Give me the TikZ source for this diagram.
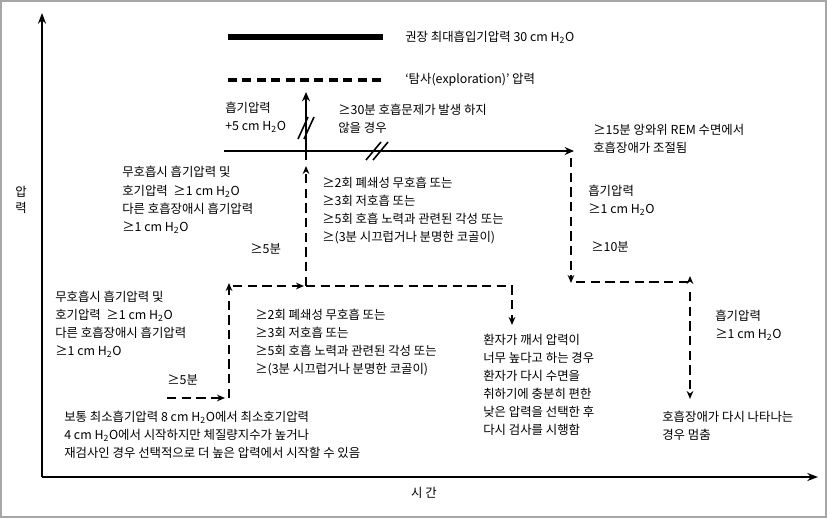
\documentclass[tikz,border=0pt]{standalone}
\usepackage{fontspec}
\setmainfont{Noto Sans CJK KR}
\usetikzlibrary{arrows.meta}

\begin{document}
\begin{tikzpicture}[
  x=0.75pt,y=-0.75pt,
  axis/.style={line width=2pt,-{Stealth[length=8pt,width=6pt]}},
  flow/.style={line width=2pt,dash pattern=on 7pt off 4pt,-{Stealth[length=6pt,width=5pt]}},
  plain/.style={line width=1.5pt},
  txt/.style={anchor=west,align=left,inner sep=0pt,font=\fontsize{9.3}{13.6}\selectfont},
]
  \useasboundingbox (0,0) rectangle (827,518);
  \draw[gray!70,line width=1.2pt] (1,1) rectangle (826,517);

  % axes
  \coordinate (o) at (42,477);
  \coordinate (ytop) at (42,13);
  \coordinate (xend) at (818,477);
  \draw[axis] (o) -- (ytop);
  \draw[axis] (o) -- (xend);
  \node[txt,anchor=center,align=center,font=\fontsize{9.3}{11.5}\selectfont] (pres) at (21,200) {압\\력};
  \node[txt,anchor=center] (time) at (424,493) {시 간};

  % legend lines
  \coordinate (m1) at (228,37);  \coordinate (m2) at (383,37);
  \coordinate (e1) at (228,80);  \coordinate (e2) at (383,80);
  \draw[line width=5pt] (m1) -- (m2);
  \draw[line width=2.5pt,dash pattern=on 6.8pt off 4pt] (e1) -- (e2);
  \node[txt] (maxp) at (405,37) {권장 최대흡입기압력 30 cm H\textsubscript{2}O};
  \node[txt] (expl) at (405,80) {‘탐사(exploration)’ 압력};

  % main solid line and the step up
  \coordinate (b0) at (224,151);  \coordinate (b1) at (574,151);
  \coordinate (v0) at (306,160);  \coordinate (v1) at (306,92);
  \draw[plain,-{Stealth[length=7pt,width=6pt]}] (b0) -- (b1);
  \draw[plain,-{Stealth[length=7pt,width=6pt]}] (v0) -- (v1);
  \foreach \d in {0,6}
    \draw[line width=1.2pt] ({298+\d},139) -- ({308+\d},117);
  \foreach \d in {0,7}
    \draw[line width=1.2pt] ({366+\d},160) -- ({381+\d},142);

  % left staircase
  \coordinate (s0) at (167,398);  \coordinate (s1) at (225,398);
  \coordinate (s2) at (229,398);  \coordinate (s3) at (229,283);
  \coordinate (s4) at (233,286);  \coordinate (s5) at (304,286);
  \coordinate (s6) at (306,286);  \coordinate (s7) at (512,325);
  \coordinate (s8) at (306,166);
  \draw[flow] (s0) -- (s1);
  \draw[flow] (s2) -- (s3);
  \draw[flow] (s4) -- (s5);
  \draw[flow] (s6) -| (s7);
  \draw[flow] (s6) -- (s8);

  % right staircase
  \coordinate (r0) at (571,158);  \coordinate (r1) at (571,283);
  \coordinate (r2) at (576,282);  \coordinate (r3) at (690,276);
  \coordinate (r4) at (690,292);  \coordinate (r5) at (690,399);
  \draw[flow] (r0) -- (r1);
  \draw[flow] (r2) -| (r3);
  \draw[flow] (r4) -- (r5);

  % notes
  \node[txt] (upin) at (225,117.5) {흡기압력\\+5 cm H\textsubscript{2}O};
  \node[txt] (noprob) at (338,119) {≥30분 호흡문제가 발생 하지\\않을 경우};
  \node[txt] (rem) at (593,138.5) {≥15분 앙와위 REM 수면에서\\호흡장애가 조절됨};
  \node[txt] (apnea2) at (122,200) {무호흡시 흡기압력 및\\호기압력 \ ≥1 cm H\textsubscript{2}O\\다른 호흡장애시 흡기압력\\≥1 cm H\textsubscript{2}O};
  \node[txt] (crit2) at (322,210.5) {≥2회 폐쇄성 무호흡 또는\\≥3회 저호흡 또는\\≥5회 호흡 노력과 관련된 각성 또는\\≥(3분 시끄럽거나 분명한 코골이)};
  \node[txt] (min5b) at (250,248.5) {≥5분};
  \node[txt] (down1) at (588,200) {흡기압력\\≥1 cm H\textsubscript{2}O};
  \node[txt] (min10) at (591,246.5) {≥10분};
  \node[txt] (apnea1) at (55,324.5) {무호흡시 흡기압력 및\\호기압력 \ ≥1 cm H\textsubscript{2}O\\다른 호흡장애시 흡기압력\\≥1 cm H\textsubscript{2}O};
  \node[txt] (crit1) at (255,342.5) {≥2회 폐쇄성 무호흡 또는\\≥3회 저호흡 또는\\≥5회 호흡 노력과 관련된 각성 또는\\≥(3분 시끄럽거나 분명한 코골이)};
  \node[txt] (min5a) at (167,380) {≥5분};
  \node[txt] (start) at (64,435) {보통 최소흡기압력 8 cm H\textsubscript{2}O에서 최소호기압력\\4 cm H\textsubscript{2}O에서 시작하지만 체질량지수가 높거나\\재검사인 경우 선택적으로 더 높은 압력에서 시작할 수 있음};
  \node[txt] (awake) at (483,385) {환자가 깨서 압력이\\너무 높다고 하는 경우\\환자가 다시 수면을\\취하기에 충분히 편한\\낮은 압력을 선택한 후\\다시 검사를 시행함};
  \node[txt] (down2) at (715,325) {흡기압력\\≥1 cm H\textsubscript{2}O};
  \node[txt] (stop) at (662,426) {호흡장애가 다시 나타나는\\경우 멈춤};
\end{tikzpicture}
\end{document}
